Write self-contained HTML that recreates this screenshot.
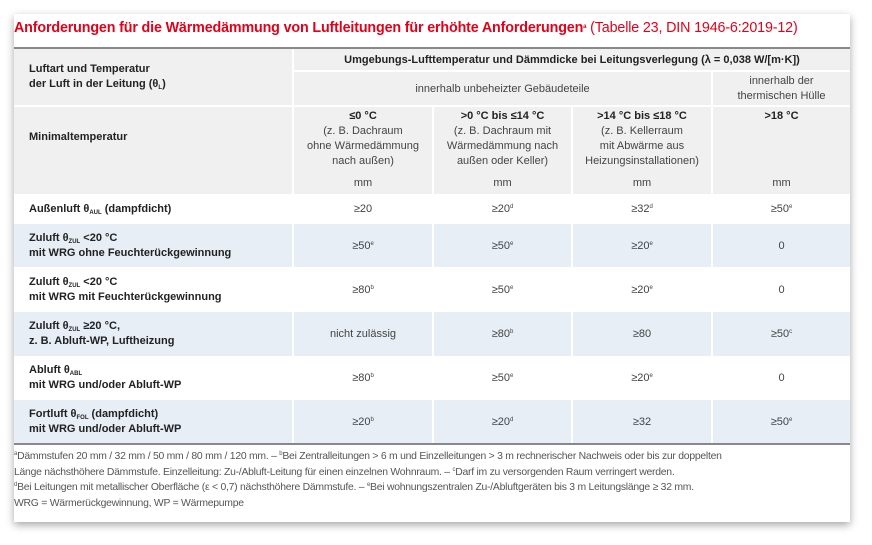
<!DOCTYPE html>
<html><head><meta charset="utf-8"><style>
*{margin:0;padding:0;box-sizing:border-box}
body{width:872px;height:545px;background:#fff;font-family:"Liberation Sans",sans-serif;color:#222;position:relative;overflow:hidden}
.card{position:absolute;left:14px;top:14px;width:836px;height:508px;background:#fff;box-shadow:0 3px 8px rgba(0,0,0,.35)}
.a{position:absolute}
.title{left:14px;top:20px;font-size:14.3px;color:#e2001a;font-weight:bold;white-space:nowrap;letter-spacing:-0.15px}
.title span{font-weight:normal}
.c{position:absolute;display:flex;align-items:center;justify-content:center;text-align:center;font-size:11px;line-height:14px;color:#444}
.l{position:absolute;display:flex;align-items:center;font-size:11px;line-height:15px;font-weight:bold;padding-left:15px;color:#222}
sub{font-size:6px;vertical-align:-2px;line-height:0}
sup{font-size:6px;vertical-align:4px;line-height:0}
.fn{left:14px;top:449px;font-size:10.4px;line-height:15.5px;color:#555;white-space:nowrap;letter-spacing:-0.25px}
</style></head><body>
<div class="card"></div>
<div class="a title">Anforderungen für die Wärmedämmung von Luftleitungen für erhöhte Anforderungen<sup>a</sup><span> (Tabelle 23, DIN 1946-6:2019-12)</span></div>
<div class="a" style="left:14px;top:47px;width:836px;height:2px;background:#888"></div>
<div class="a" style="left:14px;top:49px;width:836px;height:145px;background:#f0f0f0"></div>
<div class="a" style="left:292px;top:49px;width:2px;height:145px;background:#fff"></div>
<div class="a" style="left:294px;top:70px;width:556px;height:2px;background:#fff"></div>
<div class="a" style="left:14px;top:105px;width:836px;height:2px;background:#fff"></div>
<div class="a" style="left:432px;top:107px;width:2px;height:87px;background:#fff"></div>
<div class="a" style="left:571px;top:107px;width:2px;height:87px;background:#fff"></div>
<div class="a" style="left:711px;top:72px;width:2px;height:122px;background:#fff"></div>
<div class="l" style="left:14px;top:49px;width:278px;height:56px"><div>Luftart und Temperatur<br>der Luft in der Leitung (θ<sub>L</sub>)</div></div>
<div class="c" style="left:294px;top:49px;width:556px;height:21px;font-weight:bold;color:#222">Umgebungs-Lufttemperatur und Dämmdicke bei Leitungsverlegung (λ = 0,038 W/[m·K])</div>
<div class="c" style="left:294px;top:72px;width:417px;height:33px">innerhalb unbeheizter Gebäudeteile</div>
<div class="c" style="left:713px;top:72px;width:137px;height:33px;line-height:15px"><div>innerhalb der<br>thermischen Hülle</div></div>
<div class="l" style="left:14px;top:107px;width:278px;height:60px"><div>Minimaltemperatur</div></div>
<div class="c" style="left:294px;top:109px;width:138px;align-items:flex-start;line-height:15px"><div><b style="color:#222">≤0 °C</b><br>(z. B. Dachraum<br>ohne Wärmedämmung<br>nach außen)</div></div>
<div class="c" style="left:434px;top:109px;width:137px;align-items:flex-start;line-height:15px"><div><b style="color:#222">&gt;0 °C bis ≤14 °C</b><br>(z. B. Dachraum mit<br>Wärmedämmung nach<br>außen oder Keller)</div></div>
<div class="c" style="left:573px;top:109px;width:138px;align-items:flex-start;line-height:15px"><div><b style="color:#222">&gt;14 °C bis ≤18 °C</b><br>(z. B. Kellerraum<br>mit Abwärme aus<br>Heizungsinstallationen)</div></div>
<div class="c" style="left:713px;top:109px;width:137px;align-items:flex-start;line-height:15px"><b style="color:#222">&gt;18 °C</b></div>
<div class="c" style="left:294px;top:176px;width:138px">mm</div>
<div class="c" style="left:434px;top:176px;width:137px">mm</div>
<div class="c" style="left:573px;top:176px;width:138px">mm</div>
<div class="c" style="left:713px;top:176px;width:137px">mm</div>
<div class="a" style="left:14px;top:224px;width:836px;height:43px;background:#e7eef6"></div>
<div class="a" style="left:14px;top:312px;width:836px;height:44px;background:#e7eef6"></div>
<div class="a" style="left:14px;top:400px;width:836px;height:43px;background:#e7eef6"></div>
<div class="a" style="left:292px;top:194px;width:2px;height:250px;background:#fff"></div>
<div class="a" style="left:432px;top:194px;width:2px;height:250px;background:#fff"></div>
<div class="a" style="left:571px;top:194px;width:2px;height:250px;background:#fff"></div>
<div class="a" style="left:711px;top:194px;width:2px;height:250px;background:#fff"></div>
<div class="a" style="left:14px;top:443px;width:836px;height:2px;background:#888"></div>

<div class="l" style="left:14px;top:194px;width:278px;height:30px"><div>Außenluft θ<sub>AUL</sub> (dampfdicht)</div></div>
<div class="c" style="left:294px;top:194px;width:138px;height:30px"><span>≥20</span></div>
<div class="c" style="left:434px;top:194px;width:137px;height:30px"><span>≥20<sup>d</sup></span></div>
<div class="c" style="left:573px;top:194px;width:138px;height:30px"><span>≥32<sup>d</sup></span></div>
<div class="c" style="left:713px;top:194px;width:137px;height:30px"><span>≥50<sup>e</sup></span></div>

<div class="l" style="left:14px;top:224px;width:278px;height:43px"><div>Zuluft θ<sub>ZUL</sub> &lt;20 °C<br>mit WRG ohne Feuchterückgewinnung</div></div>
<div class="c" style="left:294px;top:224px;width:138px;height:43px"><span>≥50<sup>e</sup></span></div>
<div class="c" style="left:434px;top:224px;width:137px;height:43px"><span>≥50<sup>e</sup></span></div>
<div class="c" style="left:573px;top:224px;width:138px;height:43px"><span>≥20<sup>e</sup></span></div>
<div class="c" style="left:713px;top:224px;width:137px;height:43px">0</div>

<div class="l" style="left:14px;top:267px;width:278px;height:45px"><div>Zuluft θ<sub>ZUL</sub> &lt;20 °C<br>mit WRG mit Feuchterückgewinnung</div></div>
<div class="c" style="left:294px;top:267px;width:138px;height:45px"><span>≥80<sup>b</sup></span></div>
<div class="c" style="left:434px;top:267px;width:137px;height:45px"><span>≥50<sup>e</sup></span></div>
<div class="c" style="left:573px;top:267px;width:138px;height:45px"><span>≥20<sup>e</sup></span></div>
<div class="c" style="left:713px;top:267px;width:137px;height:45px">0</div>

<div class="l" style="left:14px;top:312px;width:278px;height:44px"><div>Zuluft θ<sub>ZUL</sub> ≥20 °C,<br>z. B. Abluft-WP, Luftheizung</div></div>
<div class="c" style="left:294px;top:312px;width:138px;height:44px">nicht zulässig</div>
<div class="c" style="left:434px;top:312px;width:137px;height:44px"><span>≥80<sup>b</sup></span></div>
<div class="c" style="left:573px;top:312px;width:138px;height:44px">≥80</div>
<div class="c" style="left:713px;top:312px;width:137px;height:44px"><span>≥50<sup>c</sup></span></div>

<div class="l" style="left:14px;top:356px;width:278px;height:44px"><div>Abluft θ<sub>ABL</sub><br>mit WRG und/oder Abluft-WP</div></div>
<div class="c" style="left:294px;top:356px;width:138px;height:44px"><span>≥80<sup>b</sup></span></div>
<div class="c" style="left:434px;top:356px;width:137px;height:44px"><span>≥50<sup>e</sup></span></div>
<div class="c" style="left:573px;top:356px;width:138px;height:44px"><span>≥20<sup>e</sup></span></div>
<div class="c" style="left:713px;top:356px;width:137px;height:44px">0</div>

<div class="l" style="left:14px;top:400px;width:278px;height:43px"><div>Fortluft θ<sub>FOL</sub> (dampfdicht)<br>mit WRG und/oder Abluft-WP</div></div>
<div class="c" style="left:294px;top:400px;width:138px;height:43px"><span>≥20<sup>b</sup></span></div>
<div class="c" style="left:434px;top:400px;width:137px;height:43px"><span>≥20<sup>d</sup></span></div>
<div class="c" style="left:573px;top:400px;width:138px;height:43px">≥32</div>
<div class="c" style="left:713px;top:400px;width:137px;height:43px"><span>≥50<sup>e</sup></span></div>

<div class="a fn"><sup>a</sup>Dämmstufen 20 mm / 32 mm / 50 mm / 80 mm / 120 mm. – <sup>b</sup>Bei Zentralleitungen &gt; 6 m und Einzelleitungen &gt; 3 m rechnerischer Nachweis oder bis zur doppelten<br>Länge nächsthöhere Dämmstufe. Einzelleitung: Zu-/Abluft-Leitung für einen einzelnen Wohnraum. – <sup>c</sup>Darf im zu versorgenden Raum verringert werden.<br><sup>d</sup>Bei Leitungen mit metallischer Oberfläche (ε &lt; 0,7) nächsthöhere Dämmstufe. – <sup>e</sup>Bei wohnungszentralen Zu-/Abluftgeräten bis 3 m Leitungslänge ≥ 32 mm.<br>WRG = Wärmerückgewinnung, WP = Wärmepumpe</div>
</body></html>
